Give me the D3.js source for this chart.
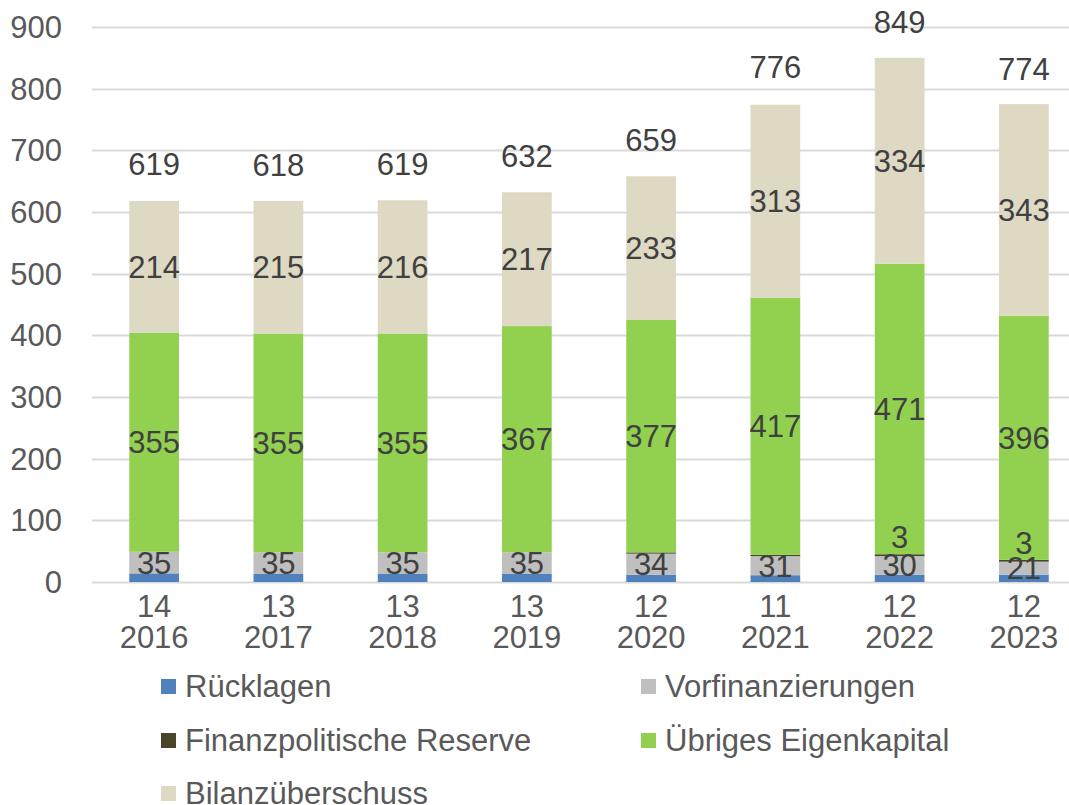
<!DOCTYPE html>
<html>
<head>
<meta charset="utf-8">
<script src="https://cdn.jsdelivr.net/npm/d3@7"></script>
<style>
  body { margin: 0; background: #fff; }
  svg { display: block; font-family: "Liberation Sans", Arial, sans-serif; }
</style>
</head>
<body>
<svg id="chart" width="1069" height="805"></svg>
<script>
// data
var years = ["2016", "2017", "2018", "2019", "2020", "2021", "2022", "2023"];
var ruecklagen = [14, 13, 13, 13, 12, 11, 12, 12];
var vorfinanzierungen = [35, 35, 35, 35, 34, 31, 30, 21];
var reserve = [0, 0, 0, 0, 2, 2, 3, 3];
var reserveShown = [false, false, false, false, false, false, true, true];
var uebriges = [355, 355, 355, 367, 377, 417, 471, 396];
var bilanz = [214, 215, 216, 217, 233, 313, 334, 343];
var totals = [619, 618, 619, 632, 659, 776, 849, 774];
var yTicks = [0, 100, 200, 300, 400, 500, 600, 700, 800, 900];

var seriesNames = ["Rücklagen", "Vorfinanzierungen", "Finanzpolitische Reserve", "Übriges Eigenkapital", "Bilanzüberschuss"];
var colors = ["#4f81bd", "#bfbfbf", "#4a452a", "#92d050", "#ddd9c3"];

var FS = "31px";

var rows = years.map(function (y, i) {
    return {
        year: y,
        "Rücklagen": ruecklagen[i],
        "Vorfinanzierungen": vorfinanzierungen[i],
        "Finanzpolitische Reserve": reserve[i],
        "Übriges Eigenkapital": uebriges[i],
        "Bilanzüberschuss": bilanz[i],
        i: i
    };
});

var svg = d3.select("#chart");
var x = d3.scaleBand().domain(years).range([92, 1086]).paddingInner(0.6).paddingOuter(0.3);
var y = d3.scaleLinear().domain([0, 900]).range([582, 27]);

// gridlines
svg.append("g").selectAll("line")
    .data(yTicks)
    .enter().append("line")
    .attr("x1", 92).attr("x2", 1069)
    .attr("y1", d => Math.round(y(d)) + 0.5)
    .attr("y2", d => Math.round(y(d)) + 0.5)
    .attr("stroke", "#d9d9d9").attr("stroke-width", 2);

// y tick labels
svg.append("g").selectAll("text")
    .data(yTicks)
    .enter().append("text")
    .attr("x", 62).attr("y", d => y(d) + 11)
    .attr("text-anchor", "end")
    .attr("fill", "#595959")
    .style("font-size", FS)
    .text(d => d);

var stack = d3.stack().keys(seriesNames)(rows);

var layers = svg.append("g").selectAll("g")
    .data(stack)
    .enter().append("g")
    .attr("fill", (d, i) => colors[i]);

layers.selectAll("rect")
    .data(d => d)
    .enter().append("rect")
    .attr("x", d => x(d.data.year))
    .attr("width", x.bandwidth())
    .attr("y", d => y(d[1]))
    .attr("height", d => y(d[0]) - y(d[1]));

// segment labels (Rücklagen sits under the axis instead)
var labelG = svg.append("g")
    .attr("fill", "#404040")
    .style("font-size", FS)
    .attr("text-anchor", "middle");

stack.forEach(function (layer, si) {
    if (si === 0) return;
    layer.forEach(function (d) {
        var v = d[1] - d[0];
        if (v <= 0) return;
        var yy = y((d[0] + d[1]) / 2) + 11;
        if (si === 2) {
            if (!reserveShown[d.data.i]) return;
            yy = y(d[1]) - 6;
        }
        labelG.append("text")
            .attr("x", x(d.data.year) + x.bandwidth() / 2)
            .attr("y", yy)
            .text(v);
    });
});

// totals above bars
labelG.selectAll(".total")
    .data(totals)
    .enter().append("text")
    .attr("class", "total")
    .attr("x", (d, i) => x(years[i]) + x.bandwidth() / 2)
    .attr("y", d => y(d) - 25)
    .text(d => d);

// x axis labels: Rücklagen value + year
var xl = svg.append("g")
    .attr("fill", "#595959")
    .style("font-size", FS)
    .attr("text-anchor", "middle");
xl.selectAll(".r")
    .data(years)
    .enter().append("text")
    .attr("x", d => x(d) + x.bandwidth() / 2)
    .attr("y", 617)
    .text((d, i) => ruecklagen[i]);
xl.selectAll(".yr")
    .data(years)
    .enter().append("text")
    .attr("x", d => x(d) + x.bandwidth() / 2)
    .attr("y", 648)
    .text(d => d);

// legend
var legendPos = [[160, 686], [640, 686], [160, 740], [640, 740], [160, 793]];
var lg = svg.append("g").selectAll("g")
    .data(seriesNames)
    .enter().append("g")
    .attr("transform", (d, i) => "translate(" + legendPos[i][0] + "," + legendPos[i][1] + ")");
lg.append("rect")
    .attr("x", 1).attr("y", -7)
    .attr("width", 15).attr("height", 15)
    .attr("fill", (d, i) => colors[i]);
lg.append("text")
    .attr("x", 25).attr("y", 11)
    .attr("fill", "#595959")
    .style("font-size", FS)
    .text(d => d);
</script>
</body>
</html>
